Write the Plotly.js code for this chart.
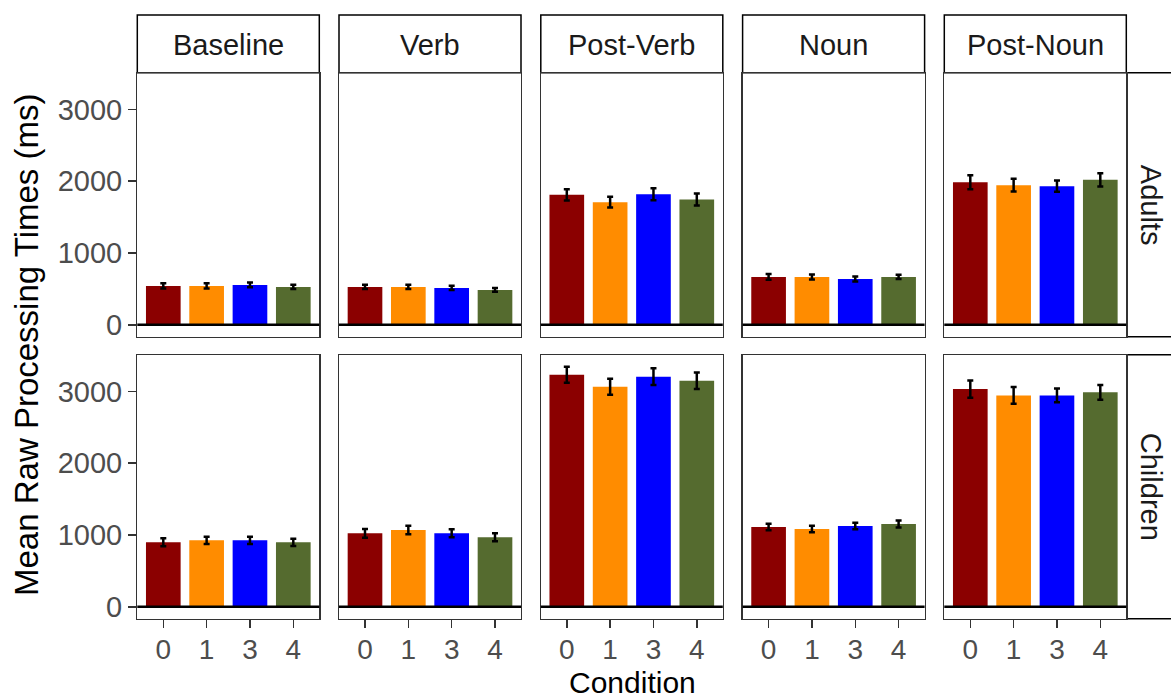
<!DOCTYPE html>
<html>
<head>
<meta charset="utf-8">
<script src="https://cdn.plot.ly/plotly-3.0.1.min.js"></script>
<style>
html,body{margin:0;padding:0;background:#fff;}
#chart{width:1171px;height:700px;}
</style>
</head>
<body>
<div id="chart"></div>
<script>
// ---- data ----
const conditions = ['0', '1', '3', '4'];
const segments = ['Baseline', 'Verb', 'Post-Verb', 'Noun', 'Post-Noun'];
const groups = ['Adults', 'Children'];
const barColors = ['#8B0000', '#FF8C00', '#0000FF', '#556B2F'];

// mean raw processing times (ms), one row per segment, one value per condition
const adultsMean = [
  [542, 542, 556, 528],
  [528, 528, 514, 486],
  [1810, 1708, 1819, 1745],
  [667, 667, 639, 667],
  [1986, 1944, 1931, 2019]
];
const adultsSE = [
  [35, 35, 33, 30],
  [30, 30, 30, 25],
  [79, 74, 83, 83],
  [40, 35, 35, 30],
  [97, 88, 79, 93]
];
const childrenMean = [
  [898, 926, 926, 898],
  [1023, 1069, 1023, 968],
  [3231, 3065, 3204, 3148],
  [1111, 1083, 1125, 1153],
  [3032, 2944, 2944, 2986]
];
const childrenSE = [
  [55, 51, 51, 51],
  [60, 60, 56, 56],
  [111, 111, 116, 116],
  [45, 45, 45, 50],
  [120, 116, 97, 102]
];
const yTicks = [0, 1000, 2000, 3000];

// ---- geometry (pixels) ----
const W = 1171, H = 700;
const colLeft = [137.3, 339, 540.8, 742.6, 944.3];
const panelW = 182;
const rowTop = [72.8, 354.8];
const panelH = 264;
const stripTop = 15;
const rightStripX0 = 1127;

const px = v => v / W;
const py = v => 1 - v / H;

const FONT = '"Liberation Sans", Arial, Helvetica, sans-serif';
const traces = [];
const layout = {
  width: W, height: H,
  margin: {l: 0, r: 0, t: 0, b: 0},
  paper_bgcolor: '#fff',
  plot_bgcolor: '#fff',
  showlegend: false,
  font: {family: FONT, color: '#000'},
  shapes: [],
  annotations: []
};

const means = [adultsMean, childrenMean];
const ses = [adultsSE, childrenSE];

for (let r = 0; r < 2; r++) {
  for (let c = 0; c < 5; c++) {
    const k = r * 5 + c + 1;
    const xa = 'x' + (k > 1 ? k : '');
    const ya = 'y' + (k > 1 ? k : '');
    traces.push({
      type: 'bar',
      x: conditions,
      y: means[r][c],
      width: 0.8,
      marker: {color: barColors, line: {width: 0}},
      error_y: {type: 'data', array: ses[r][c], visible: true, color: '#000', thickness: 2.5, width: 3},
      xaxis: xa, yaxis: ya,
      hoverinfo: 'x+y'
    });
    layout['xaxis' + (k > 1 ? k : '')] = {
      domain: [px(colLeft[c]), px(colLeft[c] + panelW)],
      anchor: ya,
      type: 'category',
      range: [-0.6, 3.6],
      showline: true, mirror: true, linecolor: '#333', linewidth: 1.3,
      showgrid: false, zeroline: false,
      ticks: r === 1 ? 'outside' : '',
      showticklabels: r === 1,
      ticklen: 8, tickwidth: 1.5, tickcolor: '#333',
      ticklabelstandoff: -3,
      tickfont: {family: FONT, size: 28, color: '#4D4D4D'},
      fixedrange: true
    };
    layout['yaxis' + (k > 1 ? k : '')] = {
      domain: [py(rowTop[r] + panelH), py(rowTop[r])],
      anchor: xa,
      range: [-167, 3509],
      showline: true, mirror: true, linecolor: '#333', linewidth: 1.3,
      showgrid: false, zeroline: false,
      tickmode: 'array', tickvals: yTicks, ticktext: yTicks.map(String),
      ticks: c === 0 ? 'outside' : '',
      showticklabels: c === 0,
      ticklen: 8, tickwidth: 1.5, tickcolor: '#333',
      tickfont: {family: FONT, size: 29, color: '#4D4D4D'},
      fixedrange: true
    };
    // horizontal reference line at 0
    layout.shapes.push({
      type: 'line', layer: 'above',
      xref: xa + ' domain', x0: 0, x1: 1,
      yref: ya, y0: 0, y1: 0,
      line: {color: '#000', width: 2.5}
    });
  }
}

// top strips
for (let c = 0; c < 5; c++) {
  layout.shapes.push({
    type: 'rect', xref: 'paper', yref: 'paper', layer: 'below',
    x0: px(colLeft[c]), x1: px(colLeft[c] + panelW),
    y0: py(rowTop[0]), y1: py(stripTop),
    fillcolor: '#fff', line: {color: '#000', width: 1.5}
  });
  layout.annotations.push({
    xref: 'paper', yref: 'paper',
    x: px(colLeft[c] + panelW / 2), y: py((stripTop + rowTop[0]) / 2 + 1),
    xanchor: 'center', yanchor: 'middle', showarrow: false,
    text: segments[c], font: {family: FONT, size: 29, color: '#1A1A1A'}
  });
}
// right strips
for (let r = 0; r < 2; r++) {
  layout.shapes.push({
    type: 'rect', xref: 'paper', yref: 'paper', layer: 'below',
    x0: px(rightStripX0), x1: px(W + 20),
    y0: py(rowTop[r] + panelH), y1: py(rowTop[r]),
    fillcolor: '#fff', line: {color: '#000', width: 1.5}
  });
  layout.annotations.push({
    xref: 'paper', yref: 'paper',
    x: px(1151), y: py(rowTop[r] + panelH / 2),
    xanchor: 'center', yanchor: 'middle', showarrow: false, textangle: 90,
    text: groups[r], font: {family: FONT, size: 29, color: '#1A1A1A'}
  });
}
// axis titles
layout.annotations.push({
  xref: 'paper', yref: 'paper',
  x: px(632), y: 0,
  xanchor: 'center', yanchor: 'bottom', showarrow: false, borderpad: 0,
  text: 'Condition', font: {family: FONT, size: 30, color: '#000'}
});
layout.annotations.push({
  xref: 'paper', yref: 'paper',
  x: px(26), y: py(345),
  xanchor: 'center', yanchor: 'middle', showarrow: false, textangle: -90,
  text: 'Mean Raw Processing Times (ms)', font: {family: FONT, size: 33, color: '#000'}
});

Plotly.newPlot('chart', traces, layout, {displayModeBar: false, staticPlot: true});
</script>
</body>
</html>
